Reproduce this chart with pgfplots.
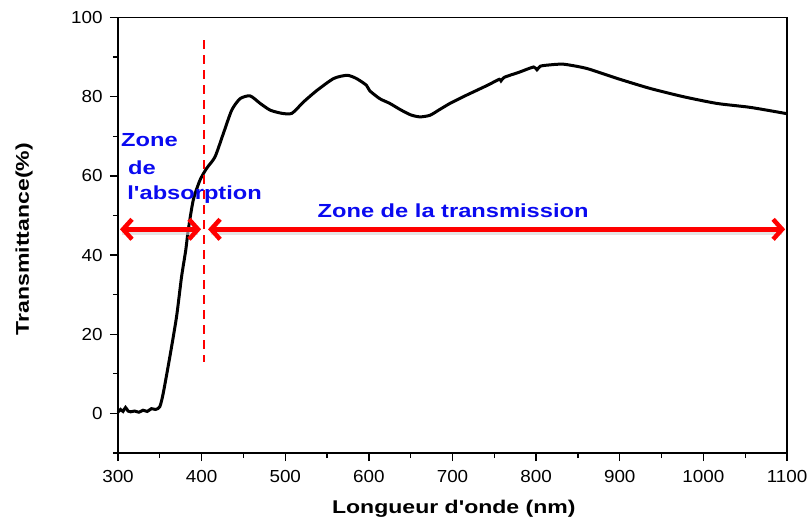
\documentclass[border=0pt]{standalone}
\usepackage{fontspec}
\setmainfont{Liberation Sans}[FakeStretch=1.08]
\newfontfamily\widefont{Liberation Sans}[FakeStretch=1.25]
\usepackage{pgfplots}
\pgfplotsset{compat=1.18}
\usetikzlibrary{arrows.meta}
\definecolor{zoneblue}{RGB}{10,10,240}
\definecolor{zonered}{RGB}{255,0,0}
\begin{document}
\begin{tikzpicture}[x=1bp,y=1bp]
\begin{axis}[
    scale only axis,
    width=669bp, height=435.5bp,
    xmin=300, xmax=1100, ymin=-10, ymax=100,
    xtick={300,400,...,1100}, ytick={0,20,...,100},
    minor xtick={350,450,...,1050}, minor ytick={-10,10,30,50,70,90},
    tick align=outside,
    major tick length=8bp, minor tick length=5bp,
    xtick pos=bottom, ytick pos=left,
    axis line style={line width=1.3bp},
    every tick/.style={line width=1.3bp, black},
    /pgf/number format/assume math mode=true,
    /pgf/number format/1000 sep={},
    tick label style={font=\fontsize{17.5}{20}\selectfont},
    xticklabel style={yshift=-6bp},
    yticklabel style={xshift=-4bp},
    xlabel={Longueur d'onde (nm)},
    ylabel={Transmittance(\%)},
    every axis x label/.style={at={(axis description cs:0.502,-0.1286)}, anchor=center,
        font=\widefont\bfseries\fontsize{18.5}{22}\selectfont},
    every axis y label/.style={at={(axis description cs:-0.1405,0.491)}, rotate=90, anchor=center,
        font=\widefont\bfseries\fontsize{18.5}{22}\selectfont},
    clip=false,
]
% spectre de transmission
\addplot[black, line width=3bp, smooth, tension=0.4] coordinates {
    (300,0.3) (303,1.0) (306,0.5) (309,1.5) (312,0.6) (315,0.4) (320,0.6)
    (325,0.3) (330,0.8) (335,0.5) (340,1.2) (345,1.0) (350,1.7) (354,5.0)
    (362,14.3) (370,24.4) (376,34.5) (381,41.2) (384,46.3) (390,53.9)
    (398,58.9) (406,61.9) (416,64.8) (426,70.7) (436,76.6) (446,79.5)
    (458,80.2) (470,78.3) (482,76.6) (496,75.8) (508,75.8) (522,78.7)
    (538,81.6) (558,84.6) (574,85.4) (585,84.6) (597,82.9) (601,81.5)
    (613,79.5) (625,78.3) (637,76.8) (650,75.4) (661,74.9) (673,75.3)
    (685,76.8) (697,78.3) (713,80.0) (729,81.6) (743,83.0) (756,84.4)
    (758,84.0) (762,84.9) (780,86.2) (797,87.5) (801,86.8) (805,87.7)
    (815,88.0) (833,88.2) (861,87.1) (897,84.6) (936,82.1) (976,80.0)
    (1016,78.3) (1056,77.3) (1100,75.7)
};
% limite d'absorption
\addplot[zonered, line width=2.5bp, dash pattern=on 9bp off 6bp] coordinates {(403,94.3) (403,13)};
% ombres des fleches
\draw[gray!35, line width=5bp, opacity=0.6] (axis cs:305,45.6) -- (axis cs:396,45.6);
\draw[gray!35, line width=5bp, opacity=0.6] (axis cs:411,45.6) -- (axis cs:1094,45.6);
% fleches
\draw[zonered, line width=4.5bp, {Straight Barb[length=9bp,width=20bp]}-{Straight Barb[length=9bp,width=20bp]}]
    (axis cs:302.4,46.5) -- (axis cs:399.3,46.5);
\draw[zonered, line width=4.5bp, {Straight Barb[length=9bp,width=20bp]}-{Straight Barb[length=9bp,width=20bp]}]
    (axis cs:407.7,46.5) -- (axis cs:1097.8,46.5);
% textes
\begin{scope}[every node/.style={text=zoneblue, font=\widefont\bfseries\fontsize{19}{22}\selectfont, inner sep=0pt}]
\node[anchor=west] at (axis cs:303.6,69) {Zone};
\node[anchor=west] at (axis cs:312,62) {de};
\node[anchor=west] at (axis cs:311,55.2) {l'absorption};
\node at (axis cs:700.7,51.1) {Zone de la transmission};
\end{scope}
\end{axis}
\pgfresetboundingbox
\path[use as bounding box] (current axis.south west) ++(-118bp,-70bp) rectangle ++(809bp,523bp);
\end{tikzpicture}
\end{document}
